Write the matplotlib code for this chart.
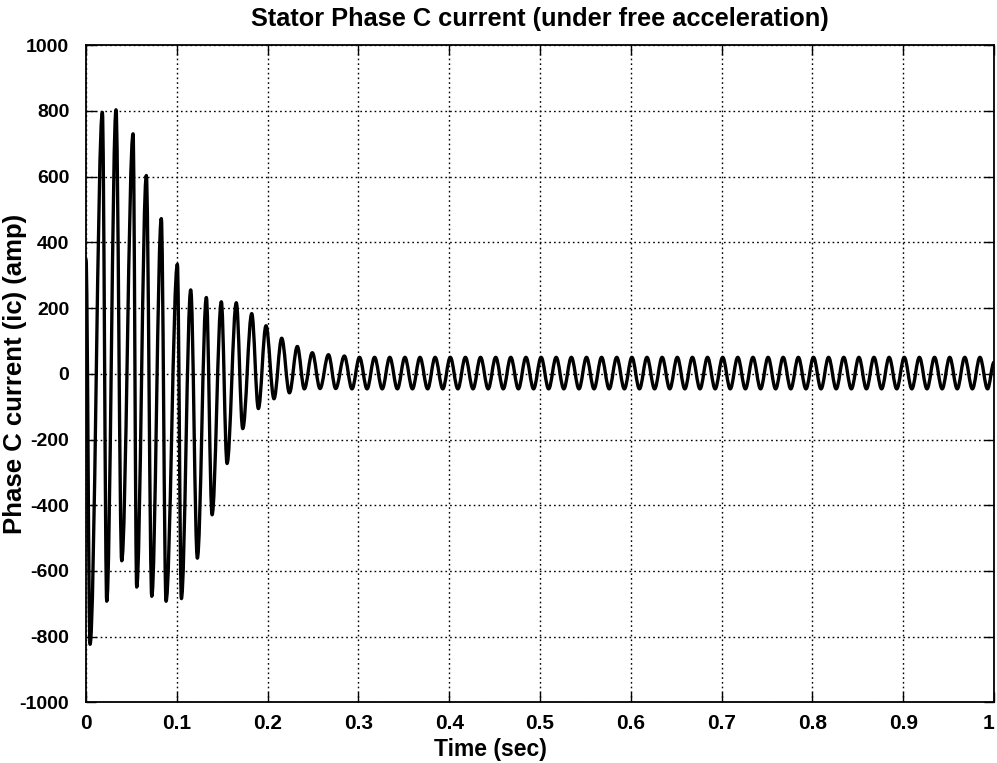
import matplotlib
matplotlib.use("Agg")
import matplotlib.pyplot as plt
from matplotlib.path import Path
from matplotlib.patches import PathPatch

# Extremes of the transient part (sec, amp)
tr_time = [0.0, 0.0044, 0.0180, 0.0228, 0.0330, 0.0393, 0.0518, 0.0558,
           0.0664, 0.0724, 0.0829, 0.0881, 0.1006, 0.1050, 0.1153, 0.1226,
           0.1325, 0.1388, 0.1490, 0.1553, 0.1655, 0.1726, 0.1825, 0.1898,
           0.1982, 0.2070, 0.2155, 0.2240, 0.2327, 0.2404, 0.2492, 0.2577,
           0.2670, 0.2750, 0.2845]
tr_current = [348, -823, 795, -692, 803, -569, 730, -649,
              603, -677, 472, -692, 333, -684, 255, -561,
              232, -429, 219, -273, 216, -167, 183, -106,
              146, -76, 108, -58, 83, -46, 64, -45,
              58, -45, 54]

# Extremes of the steady state part (60 Hz, about +/-50 amp)
ss_time = [0.2929, 0.3012, 0.3095, 0.3178, 0.3262, 0.3345, 0.3429, 0.3512,
           0.3595, 0.3678, 0.3762, 0.3845, 0.3929, 0.4012, 0.4095, 0.4178,
           0.4262, 0.4345, 0.4429, 0.4512, 0.4595, 0.4678, 0.4762, 0.4845,
           0.4929, 0.5012, 0.5095, 0.5178, 0.5262, 0.5345, 0.5429, 0.5512,
           0.5595, 0.5678, 0.5762, 0.5845, 0.5929, 0.6012, 0.6095, 0.6178,
           0.6262, 0.6345, 0.6429, 0.6512, 0.6595, 0.6678, 0.6762, 0.6845,
           0.6929, 0.7012, 0.7095, 0.7178, 0.7262, 0.7345, 0.7429, 0.7512,
           0.7595, 0.7678, 0.7762, 0.7845, 0.7929, 0.8012, 0.8095, 0.8178,
           0.8262, 0.8345, 0.8429, 0.8512, 0.8595, 0.8678, 0.8762, 0.8845,
           0.8929, 0.9012, 0.9095, 0.9178, 0.9262, 0.9345, 0.9429, 0.9512,
           0.9595, 0.9678, 0.9762, 0.9845, 0.9929, 1.0]
ss_current = [-46, 50, -46, 50, -46, 50, -46, 50,
              -46, 50, -46, 50, -46, 50, -46, 50,
              -46, 50, -46, 50, -46, 50, -46, 50,
              -46, 50, -46, 50, -46, 50, -46, 50,
              -46, 50, -46, 50, -46, 50, -46, 50,
              -46, 50, -46, 50, -46, 50, -46, 50,
              -46, 50, -46, 50, -46, 50, -46, 50,
              -46, 50, -46, 50, -46, 50, -46, 50,
              -46, 50, -46, 50, -46, 50, -46, 50,
              -46, 50, -46, 50, -46, 50, -46, 50,
              -46, 50, -46, 50, -46, 35]

x_ticks = [0, 0.1, 0.2, 0.3, 0.4, 0.5, 0.6, 0.7, 0.8, 0.9, 1]
x_ticklabels = ["0", "0.1", "0.2", "0.3", "0.4", "0.5", "0.6", "0.7", "0.8", "0.9", "1"]
y_ticks = [-1000, -800, -600, -400, -200, 0, 200, 400, 600, 800, 1000]

plt.rcParams['font.family'] = ['Liberation Sans', 'DejaVu Sans']
plt.rcParams['font.weight'] = 'bold'
plt.rcParams['axes.unicode_minus'] = False

fig = plt.figure(figsize=(9.97, 7.63), dpi=100)
ax = fig.add_axes([0.0863, 0.0793, 0.9107, 0.8617])

# smooth trace through the extremes (flat tangent at each peak)
t = tr_time + ss_time
v = tr_current + ss_current
verts = [(t[0], v[0])]
codes = [Path.MOVETO]
for i in range(1, len(t)):
    d = t[i] - t[i - 1]
    verts += [(t[i - 1] + 0.36 * d, v[i - 1]), (t[i] - 0.36 * d, v[i]), (t[i], v[i])]
    codes += [Path.CURVE4] * 3
ax.add_patch(PathPatch(Path(verts, codes), fill=False, edgecolor='black',
                       lw=2.4, joinstyle='round', capstyle='round'))

ax.set_xlim(0, 1)
ax.set_ylim(-1000, 1000)
ax.set_xticks(x_ticks)
ax.set_xticklabels(x_ticklabels)
ax.set_yticks(y_ticks)
ax.tick_params(direction='in', top=True, right=True, length=7, width=1,
               labelsize=15)
ax.tick_params(axis='y', pad=12, labelsize=14)
ax.tick_params(axis='x', pad=8)
ax.get_xticklabels()[-1].set_horizontalalignment('right')
ax.grid(True, color='black', linestyle=(0, (1.2, 2.2)), linewidth=1.0)
for s in ax.spines.values():
    s.set_linewidth(1.3)

ax.set_title("Stator Phase C current (under free acceleration)", size=18.3,
             weight='bold', pad=14)
ax.set_xlabel("Time (sec)", size=16.5, weight='bold')
ax.xaxis.set_label_coords(0.445, -0.054)
ax.set_ylabel("Phase C current (ic) (amp)", size=18.5, weight='bold')
ax.yaxis.set_label_coords(-0.0645, 0.5)

fig.savefig("out.png", dpi=100)
